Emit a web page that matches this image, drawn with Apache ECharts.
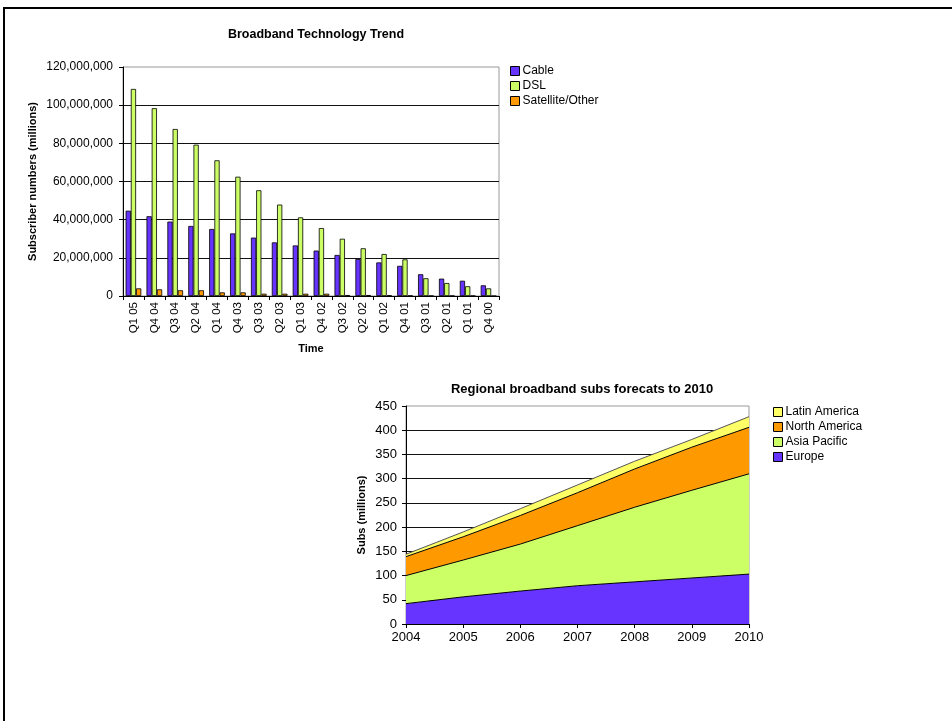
<!DOCTYPE html>
<html>
<head>
<meta charset="utf-8">
<script src="https://cdn.jsdelivr.net/npm/echarts@6/dist/echarts.min.js"></script>
<style>
html,body{margin:0;padding:0;background:#fff;}
#chart{position:absolute;left:0;top:0;width:952px;height:721px;}
#frame{position:absolute;left:3px;top:7px;width:949px;height:714px;border-top:2px solid #000;border-left:2px solid #000;box-sizing:border-box;pointer-events:none;}
</style>
</head>
<body>
<div id="chart"></div>
<div id="frame"></div>
<script>
// ---- Chart 1 data: Broadband Technology Trend ----
var quarters = ['Q1 05','Q4 04','Q3 04','Q2 04','Q1 04','Q4 03','Q3 03','Q2 03','Q1 03','Q4 02','Q3 02','Q2 02','Q1 02','Q4 01','Q3 01','Q2 01','Q1 01','Q4 00'];
var cable = [44700000,41800000,39000000,36700000,35100000,32800000,30600000,28100000,26500000,23800000,21500000,19400000,17600000,15800000,11400000,9100000,8000000,5600000];
var dsl = [108500000,98400000,87500000,79300000,71100000,62500000,55400000,47900000,41200000,35600000,30000000,25000000,22000000,19200000,9300000,6800000,5100000,4000000];
var satellite = [4000000,3500000,3000000,3000000,1900000,1900000,1200000,1200000,1200000,1200000,500000,500000,400000,200000,100000,100000,100000,0];
var subsTicks = [0,20000000,40000000,60000000,80000000,100000000,120000000];

// ---- Chart 2 data: Regional broadband subs forecasts ----
var years = ['2004','2005','2006','2007','2008','2009','2010'];
var europe = [42,56,68,79,87,95,103];
var asiaPacific = [58,76,97,124,154,181,207];
var northAmerica = [39,48,59,68,79,89,96];
var latinAmerica = [5,10,14,16,16,16,22];
var regionTicks = [0,50,100,150,200,250,300,350,400,450];

var FONT = "'Liberation Sans', Arial, sans-serif";
function commas(v){
  var s = String(Math.round(v));
  return s.replace(/\B(?=(\d{3})+(?!\d))/g, ',');
}
var barBorder = {borderColor:'#000', borderWidth:0.8};

var chart = echarts.init(document.getElementById('chart'), null, {renderer:'canvas'});
var option = {
  backgroundColor:'#fff',
  animation:false,
  textStyle:{fontFamily:FONT, color:'#000'},
  title:[
    {text:'Broadband Technology Trend', left:311, top:23, textAlign:'center',
     textStyle:{fontSize:12.5, fontWeight:'bold', fontFamily:FONT, color:'#000'}},
    {text:'Regional broadband subs forecats to 2010', left:577, top:378, textAlign:'center',
     textStyle:{fontSize:13, fontWeight:'bold', fontFamily:FONT, color:'#000'}}
  ],
  legend:[
    {orient:'vertical', left:505, top:60, itemWidth:9, itemHeight:9, itemGap:3, icon:'rect',
     data:['Cable','DSL','Satellite/Other'],
     textStyle:{fontSize:12, fontFamily:FONT, color:'#000', padding:[0,0,0,-2]},
     itemStyle:{borderColor:'#000', borderWidth:1}},
    {orient:'vertical', left:768, top:401, itemWidth:9, itemHeight:9, itemGap:3, icon:'rect',
     data:['Latin America','North America','Asia Pacific','Europe'],
     textStyle:{fontSize:12, fontFamily:FONT, color:'#000', padding:[0,0,0,-2]},
     itemStyle:{borderColor:'#000', borderWidth:1}}
  ],
  grid:[
    {left:123, top:67, width:376, height:229, show:true, borderColor:'#999', borderWidth:1, backgroundColor:'transparent'},
    {left:406, top:406, width:343, height:218, show:true, borderColor:'#999', borderWidth:1, backgroundColor:'transparent'}
  ],
  xAxis:[
    {gridIndex:0, type:'category', data:quarters, boundaryGap:true,
     name:'Time', nameLocation:'middle', nameGap:47,
     nameTextStyle:{fontSize:11, fontWeight:'bold', color:'#000'},
     axisLine:{lineStyle:{color:'#000', width:1}},
     axisTick:{show:true, length:4, lineStyle:{color:'#000'}},
     axisLabel:{rotate:90, interval:0, fontSize:11.5, margin:6, color:'#000'},
     splitLine:{show:false}},
    {gridIndex:1, type:'category', data:years, boundaryGap:false,
     axisLine:{lineStyle:{color:'#000', width:1}},
     axisTick:{show:true, length:4, lineStyle:{color:'#000'}},
     axisLabel:{fontSize:13, margin:7, color:'#000'},
     splitLine:{show:false}}
  ],
  yAxis:[
    {gridIndex:0, type:'value', min:subsTicks[0], max:subsTicks[subsTicks.length-1], interval:subsTicks[1]-subsTicks[0],
     name:'Subscriber numbers (millions)', nameLocation:'middle', nameGap:85,
     nameTextStyle:{fontSize:11, fontWeight:'bold', color:'#000'},
     axisLine:{show:true, lineStyle:{color:'#000', width:1}},
     axisTick:{show:true, length:4, lineStyle:{color:'#000'}},
     axisLabel:{fontSize:12, margin:10, color:'#000', formatter:function(v){return commas(v);}},
     splitLine:{show:true, showMaxLine:false, lineStyle:{color:'#111', width:1}}},
    {gridIndex:1, type:'value', min:regionTicks[0], max:regionTicks[regionTicks.length-1], interval:regionTicks[1]-regionTicks[0],
     name:'Subs (millions)', nameLocation:'middle', nameGap:39,
     nameTextStyle:{fontSize:11, fontWeight:'bold', color:'#000'},
     axisLine:{show:true, lineStyle:{color:'#000', width:1}},
     axisTick:{show:true, length:4, lineStyle:{color:'#000'}},
     axisLabel:{fontSize:13, margin:9, color:'#000'},
     splitLine:{show:true, showMaxLine:false, lineStyle:{color:'#111', width:1}}}
  ],
  series:[
    {name:'Cable', type:'bar', xAxisIndex:0, yAxisIndex:0, data:cable, barGap:'0%', barCategoryGap:'25%',
     itemStyle:Object.assign({color:'#6633FF'}, barBorder)},
    {name:'DSL', type:'bar', xAxisIndex:0, yAxisIndex:0, data:dsl, barGap:'0%', barCategoryGap:'25%',
     itemStyle:Object.assign({color:'#CCFF66'}, barBorder)},
    {name:'Satellite/Other', type:'bar', xAxisIndex:0, yAxisIndex:0, data:satellite, barGap:'0%', barCategoryGap:'25%',
     itemStyle:Object.assign({color:'#FF9900'}, barBorder)},
    {name:'Europe', type:'line', xAxisIndex:1, yAxisIndex:1, stack:'regions', data:europe, symbol:'none',
     lineStyle:{color:'#000', width:1}, areaStyle:{color:'#6633FF', opacity:1}, itemStyle:{color:'#6633FF', borderColor:'#000'}},
    {name:'Asia Pacific', type:'line', xAxisIndex:1, yAxisIndex:1, stack:'regions', data:asiaPacific, symbol:'none',
     lineStyle:{color:'#000', width:1}, areaStyle:{color:'#CCFF66', opacity:1}, itemStyle:{color:'#CCFF66', borderColor:'#000'}},
    {name:'North America', type:'line', xAxisIndex:1, yAxisIndex:1, stack:'regions', data:northAmerica, symbol:'none',
     lineStyle:{color:'#000', width:1}, areaStyle:{color:'#FF9900', opacity:1}, itemStyle:{color:'#FF9900', borderColor:'#000'}},
    {name:'Latin America', type:'line', xAxisIndex:1, yAxisIndex:1, stack:'regions', data:latinAmerica, symbol:'none',
     lineStyle:{color:'#555', width:1}, areaStyle:{color:'#FFFF66', opacity:1}, itemStyle:{color:'#FFFF66', borderColor:'#000'}}
  ]
};
chart.setOption(option);
</script>
</body>
</html>
